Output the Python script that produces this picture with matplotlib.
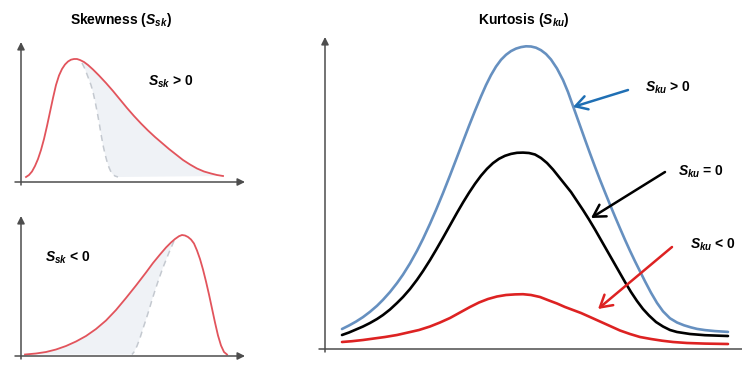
import matplotlib
matplotlib.use("Agg")
import matplotlib.pyplot as plt

plt.rcParams["font.family"] = ["Liberation Sans", "DejaVu Sans"]
plt.rcParams["mathtext.fontset"] = "custom"
plt.rcParams["mathtext.it"] = "Liberation Sans:italic:bold"
plt.rcParams["mathtext.rm"] = "Liberation Sans:bold"

# --- positive skew (top left) ---
pos_x = [5, 8, 11, 14, 17, 20, 23, 26, 29, 32, 35, 38, 41, 44, 47, 50, 53, 56, 59,
         63, 67, 72, 78, 85, 92, 99, 106, 113, 120, 127, 134, 141, 148, 155, 162,
         169, 176, 183, 190, 196, 202]
pos_y = [5, 7, 10.5, 16, 23, 32, 43, 56, 70, 84, 97, 106.5, 113, 117.5, 120.5, 122.3,
         123, 123, 122, 120, 117, 112.5, 106.5, 99, 91, 82.5, 74, 66, 58.5, 51.5, 45,
         39, 33, 27.5, 22, 17.5, 13.5, 10.5, 8.5, 7, 6]
pos_dash_x = [61, 64, 67, 70, 72, 74, 76, 78, 80, 82, 84, 86, 88, 90, 92, 94, 97]
pos_dash_y = [119, 113, 105, 97, 90, 81, 71, 60, 48, 37, 28, 20.5, 14.5, 10, 7.5, 6, 5]

# --- negative skew (bottom left) ---
neg_x = [4, 15, 25, 35, 45, 55, 65, 75, 85, 95, 105, 115, 125, 132, 139, 145, 150,
         154, 158, 161, 164, 167, 170, 173, 176, 179, 182, 185, 188, 191, 194, 197,
         200, 203, 206]
neg_y = [1.5, 2.5, 4, 6.5, 10, 14.5, 20, 27, 35.5, 46, 58, 70.5, 83.5, 93, 101.5,
         108.5, 113.5, 117, 119.8, 121, 120.5, 119, 116.5, 112.5, 105.5, 97, 86.5,
         74.5, 61.5, 47.5, 33.5, 20.5, 10.5, 4, 1.5]
neg_dash_x = [153, 150, 148, 146, 144, 142, 140, 137, 134, 131, 128, 125, 122, 119,
              116, 113, 111]
neg_dash_y = [115, 108, 103.5, 98.5, 93.5, 88.5, 83, 74.5, 65.5, 56, 46, 36.5, 27.5,
              18, 10, 4, 1.5]

# --- kurtosis curves (right) ---
ku_pos_x = [17, 24, 31, 38, 45, 52, 58, 65, 72, 78, 85, 92, 98, 105, 111, 118, 125,
            132, 138, 144, 150, 156, 161, 166, 171, 176, 181, 186, 191, 196, 201,
            206, 211, 216, 221, 226, 232, 238, 243, 248, 254, 260, 265, 270, 275,
            280, 285, 290, 295, 300, 305, 310, 315, 320, 326, 332, 338, 345, 352,
            359, 366, 372, 380, 390, 403]
ku_pos_y = [20, 23.5, 27.4, 31.9, 37.2, 43.2, 49.2, 57, 65.9, 74.4, 85.6, 98.2,
            110.1, 125.2, 139, 155.9, 173.6, 191.8, 207.5, 223.1, 238.2, 252.6,
            263.9, 273.9, 282.4, 289.2, 294.2, 297.9, 300.4, 301.9, 302.7, 302.5,
            301.3, 298.8, 295, 289.5, 280.5, 269, 257, 243, 226.2, 209.4, 195.6,
            182.2, 169.2, 156.7, 144.4, 132.4, 120.7, 109.2, 98.2, 87.7, 77.7, 67.7,
            56.3, 46.1, 37.7, 30.7, 26.5, 23.7, 21.6, 20.1, 18.9, 17.9, 17.1]
ku_zero_x = [17, 24, 31, 38, 45, 52, 58, 65, 72, 78, 85, 92, 98, 105, 111, 118, 125,
             132, 138, 144, 150, 156, 162, 168, 174, 180, 186, 192, 198, 204, 210,
             216, 222, 228, 234, 240, 246, 252, 258, 264, 270, 276, 282, 288, 294,
             300, 306, 312, 318, 324, 331, 338, 345, 352, 365, 380, 403]
ku_zero_y = [14, 16.5, 19.5, 22.5, 26, 30, 34, 39.5, 46, 52, 60, 69.2, 77.9, 88.9,
             99, 111.2, 123.7, 136.2, 146.5, 156.2, 165.2, 173.3, 180.2, 185.9, 190.2,
             193.2, 195.1, 196.2, 196.4, 196, 194.5, 191, 186, 179.5, 172, 164.5, 157,
             148, 139, 129.5, 119.5, 109, 98.5, 88, 77.5, 67, 57, 48, 40, 33.5, 27,
             22.5, 19, 17, 15, 13.8, 13]
ku_neg_x = [17, 27, 38, 49, 60, 72, 83, 94, 105, 115, 125, 135, 145, 154, 163, 172,
            181, 190, 198, 206, 215, 224, 232, 240, 248, 256, 265, 275, 285, 295,
            305, 315, 326, 337, 348, 362, 380, 403]
ku_neg_y = [7, 7.8, 9, 10.5, 12, 14, 16.5, 19, 22.5, 26.5, 31, 36.5, 42, 46.5, 50,
            52.5, 54, 54.6, 54.8, 54, 52, 48.5, 45.5, 42, 39, 36, 32, 27.5, 23, 18.5,
            15, 12, 10, 8.3, 7, 6, 5.4, 5]

W, H = 742, 367
fig = plt.figure(figsize=(W / 100, H / 100), dpi=100)

skew_red = "#e2545c"
fill_col = "#eff2f6"
axis_col = "#4d4d4d"


def make_axes(x0, y0, w, h):
    # x0, y0 = origin of the drawn axes in picture pixels
    ax = fig.add_axes([x0 / W, (H - y0) / H, w / W, h / H])
    ax.set_xlim(0, w)
    ax.set_ylim(0, h)
    ax.axis("off")
    return ax


def draw_axis_arrows(ax, w, h, xend=None):
    xend = w if xend is None else xend
    ax.annotate("", xy=(xend, 0), xytext=(-6, 0), annotation_clip=False,
                arrowprops=dict(arrowstyle="-|>", color=axis_col, lw=1.1,
                                mutation_scale=11, shrinkA=0, shrinkB=0))
    ax.annotate("", xy=(0, h), xytext=(0, -3), annotation_clip=False,
                arrowprops=dict(arrowstyle="-|>", color=axis_col, lw=1.1,
                                mutation_scale=11, shrinkA=0, shrinkB=0))


# top left
ax1 = make_axes(21, 182, 224, 140)
draw_axis_arrows(ax1, 224, 140)
tail = [i for i, x in enumerate(pos_x) if x >= 61]
fx = pos_dash_x + [pos_x[i] for i in reversed(tail)]
fy = pos_dash_y + [pos_y[i] for i in reversed(tail)]
ax1.fill(fx, fy, color=fill_col, lw=0)
ax1.plot(pos_dash_x, pos_dash_y, color="#c4c9d0", lw=1.1, ls=(0, (4, 3)))
ax1.plot(pos_x, pos_y, color=skew_red, lw=1.3)
ax1.text(100, 162, "Skewness ($S_{sk}$)", ha="center", va="center",
         fontsize=10, fontweight="bold", clip_on=False)
ax1.text(127, 100, "$S_{sk}$ > 0", ha="left", va="center", fontsize=10,
         fontweight="bold")

# bottom left
ax2 = make_axes(21, 356, 224, 140)
draw_axis_arrows(ax2, 224, 140)
head = [i for i, x in enumerate(neg_x) if x <= 150]
fx = [neg_x[i] for i in head] + neg_dash_x
fy = [neg_y[i] for i in head] + neg_dash_y
ax2.fill(fx, fy, color=fill_col, lw=0)
ax2.plot(neg_dash_x, neg_dash_y, color="#c4c9d0", lw=1.1, ls=(0, (4, 3)))
ax2.plot(neg_x, neg_y, color=skew_red, lw=1.3)
ax2.text(24, 98, "$S_{sk}$ < 0", ha="left", va="center", fontsize=10,
         fontweight="bold")

# right: kurtosis
ax3 = make_axes(325, 349, 417, 312)
draw_axis_arrows(ax3, 417, 312, xend=440)
ax3.plot(ku_pos_x, ku_pos_y, color="#6690c0", lw=1.9, solid_capstyle="round",
         solid_joinstyle="round")
ax3.plot(ku_zero_x, ku_zero_y, color="black", lw=1.9, solid_capstyle="round",
         solid_joinstyle="round")
ax3.plot(ku_neg_x, ku_neg_y, color="#dd2222", lw=1.9, solid_capstyle="round",
         solid_joinstyle="round")
ax3.text(199, 329, "Kurtosis ($S_{ku}$)", ha="center", va="center",
         fontsize=10, fontweight="bold", clip_on=False)

labels = ["$S_{ku}$ > 0", "$S_{ku}$ = 0", "$S_{ku}$ < 0"]
label_xy = [(320, 261), (353, 177), (365, 104)]
arrow_from = [(303, 259), (340, 177), (347, 102)]
arrow_to = [(248, 242), (266, 131), (273, 40)]
arrow_cols = ["#1f6fb4", "black", "#dd2222"]
for lab, (lx, ly), a, b, c in zip(labels, label_xy, arrow_from, arrow_to, arrow_cols):
    ax3.text(lx, ly, lab, ha="left", va="center", fontsize=10, fontweight="bold")
    ax3.annotate("", xy=b, xytext=a,
                 arrowprops=dict(arrowstyle="->,head_length=0.6,head_width=0.35",
                                 color=c, lw=1.8, mutation_scale=14,
                                 shrinkA=0, shrinkB=0))

fig.savefig("out.png", dpi=100)
